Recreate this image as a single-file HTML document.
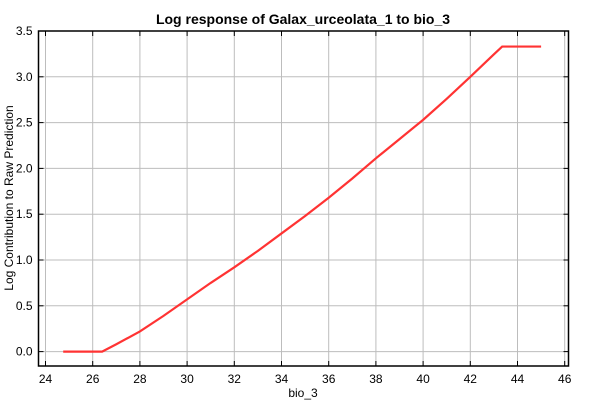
<!DOCTYPE html>
<html><head><meta charset="utf-8"><style>
body{margin:0;background:#fff;}
svg text{font-family:"Liberation Sans",sans-serif;}
</style></head><body>
<svg id="c" width="600" height="400" xmlns="http://www.w3.org/2000/svg"></svg>
<script>
const xTicks=[24,26,28,30,32,34,36,38,40,42,44,46];
const yTicks=[0.0,0.5,1.0,1.5,2.0,2.5,3.0,3.5];
const xVals=[24.75,26.4,27,28,29,30,31,32,33,34,35,36,37,38,39,40,41,42,43,43.35,45.0];
const yVals=[0,0,0.08,0.22,0.39,0.57,0.75,0.92,1.1,1.29,1.48,1.68,1.89,2.11,2.32,2.53,2.76,3.0,3.245,3.33,3.33];
const L=38.5,R=568.5,T=31,B=366;
const X=v=>45.5+(v-24)*23.6;
const Y=v=>351.6-v*91.6;
const svg=document.getElementById('c');
const NS='http://www.w3.org/2000/svg';
function mk(t,a,p){const e=document.createElementNS(NS,t);for(const k in a)e.setAttribute(k,a[k]);(p||svg).appendChild(e);return e;}
const grid=mk('g',{});


xTicks.forEach(v=>{if(X(v)>L&&X(v)<R)mk('line',{x1:X(v),x2:X(v),y1:T,y2:B,stroke:'#bdbdbd','stroke-width':1},grid);});
yTicks.forEach(v=>{mk('line',{x1:L,x2:R,y1:Y(v),y2:Y(v),stroke:'#bdbdbd','stroke-width':1},grid);});
const ax=mk('g',{});


mk('rect',{x:L,y:T,width:R-L,height:B-T,fill:'none',stroke:'#000','stroke-width':1.5},ax);
xTicks.forEach(v=>{const x=X(v);mk('line',{x1:x,x2:x,y1:B,y2:B-5,stroke:'#000'},ax);mk('line',{x1:x,x2:x,y1:T,y2:T+5,stroke:'#000'},ax);
const t=mk('text',{x:x,y:B+17,'text-anchor':'middle','font-size':12},ax);t.textContent=v;

});
yTicks.forEach(v=>{const y=Y(v);mk('line',{x1:L,x2:L+5,y1:y,y2:y,stroke:'#000'},ax);mk('line',{x1:R,x2:R-5,y1:y,y2:y,stroke:'#000'},ax);
const t=mk('text',{x:L-6,y:y+4,'text-anchor':'end','font-size':12},ax);t.textContent=v.toFixed(1);

});
const line=mk('polyline',{points:xVals.map((v,i)=>X(v)+','+Y(yVals[i])).join(' '),fill:'none',stroke:'#ff3333','stroke-width':2.2});


const ti=mk('text',{x:303,y:24,'text-anchor':'middle','font-size':14,'font-weight':'bold'});ti.textContent='Log response of Galax_urceolata_1 to bio_3';


const xl=mk('text',{x:303,y:397,'text-anchor':'middle','font-size':12});xl.textContent='bio_3';


const yl=mk('text',{x:0,y:0,'text-anchor':'middle','font-size':12,transform:'translate(13,198) rotate(-90)'});yl.textContent='Log Contribution to Raw Prediction';


</script>
</body></html>
